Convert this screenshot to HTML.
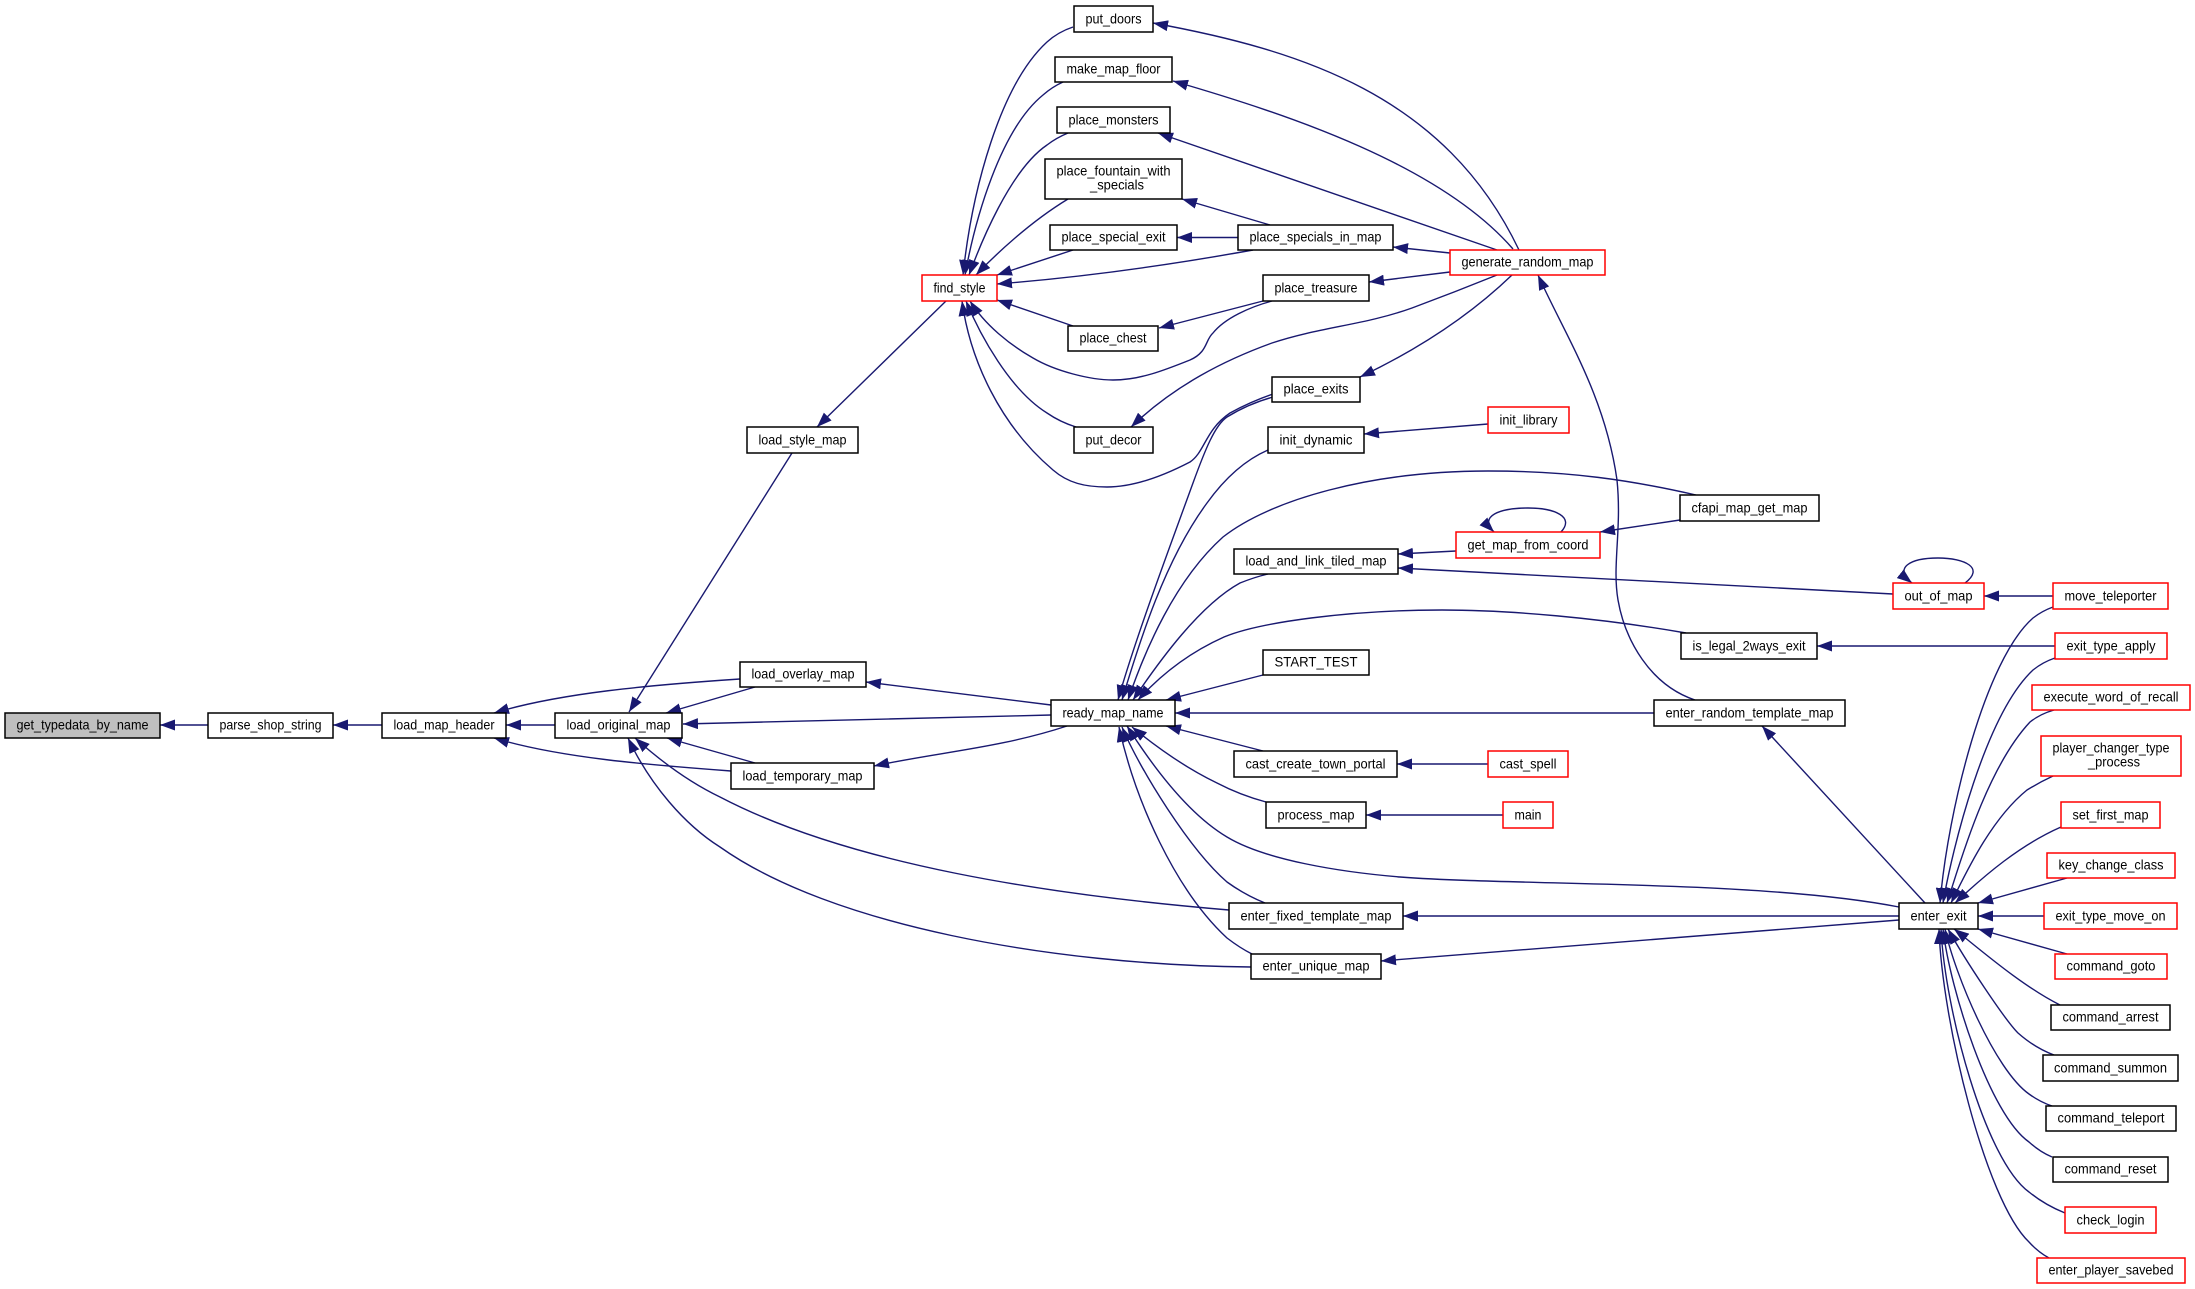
<!DOCTYPE html>
<html><head><meta charset="utf-8"><title>get_typedata_by_name</title>
<style>
html,body{margin:0;padding:0;background:#fff;width:2195px;height:1289px;overflow:hidden}
svg{display:block;filter:blur(.35px)}
text{font-family:"Liberation Sans",sans-serif;font-size:14px;fill:#000;text-anchor:middle}
.b rect{stroke:#000;stroke-width:1.5;fill:#fff}
.r rect{stroke:#f00;stroke-width:1.5;fill:#fff}
.e path{fill:none;stroke:#191970;stroke-width:1.4;marker-start:url(#a)}
</style></head><body>
<svg width="2195" height="1289" viewBox="0 0 2195 1289" xmlns="http://www.w3.org/2000/svg">
<defs><marker id="a" markerUnits="userSpaceOnUse" markerWidth="15" markerHeight="11" viewBox="0 0 15 11" refX="15" refY="5.5" orient="auto-start-reverse"><polygon points="0,0 15,5.5 0,11" fill="#191970"/></marker></defs>
<g class="e">
<path d="M160,725L208,725"/>
<path d="M333,725L382,725"/>
<path d="M506,725L555,725"/>
<path d="M494,713C560,693 650,685 740,679"/>
<path d="M494,738C560,758 650,765 731,771"/>
<path d="M629,712L792,453"/>
<path d="M666,713L755,687"/>
<path d="M683,724L1051,715"/>
<path d="M667,738L755,763"/>
<path d="M635,738C665,765 695,785 720,797C850,865 1050,895 1229,910"/>
<path d="M628,738C650,785 685,825 720,847C830,925 1050,965 1251,967"/>
<path d="M866,682L1051,705"/>
<path d="M874,766C940,752 1000,748 1067,726"/>
<path d="M817,427L946,301"/>
<path d="M963,275C972,190 1000,85 1047,42Q1058,32 1073,27"/>
<path d="M965,275C975,220 1000,130 1043,95Q1052,87 1063,82"/>
<path d="M969,275C980,245 1010,170 1047,145Q1056,138 1068,133"/>
<path d="M976,275C995,255 1030,222 1068,199"/>
<path d="M997,275L1073,250"/>
<path d="M997,284C1085,277 1170,265 1253,250"/>
<path d="M997,300L1073,326"/>
<path d="M970,301C985,325 1010,345 1033,358C1055,371 1090,380 1113,380C1140,380 1165,370 1190,360C1208,352 1205,340 1213,333C1225,318 1250,307 1272,301"/>
<path d="M966,301C980,335 1010,390 1047,413Q1060,422 1076,427"/>
<path d="M962,301C970,360 1000,425 1053,470C1068,483 1085,487 1107,487C1135,487 1165,475 1190,462C1205,452 1205,430 1230,413Q1250,402 1273,394"/>
<path d="M1153,23C1300,50 1445,95 1519,250"/>
<path d="M1173,81C1290,115 1440,165 1513,249"/>
<path d="M1158,133L1497,250"/>
<path d="M1182,199L1270,225"/>
<path d="M1177,237.500L1238,237.500"/>
<path d="M1393,247L1450,253"/>
<path d="M1369,282L1450,272"/>
<path d="M1159,328L1263,301"/>
<path d="M1131,427C1175,385 1225,360 1272,343C1320,327 1365,325 1412,308Q1455,292 1497,275"/>
<path d="M1360,377C1400,358 1460,325 1512,275"/>
<path d="M1538,275C1565,335 1605,395 1617,480C1622,530 1612,565 1618,600C1625,640 1650,685 1695,700"/>
<path d="M1118,700C1135,640 1165,560 1193,483C1205,450 1215,425 1227,417Q1248,404 1273,397"/>
<path d="M1122,700C1140,640 1165,560 1207,503C1225,478 1245,460 1268,450"/>
<path d="M1128,700C1145,650 1175,580 1223,537C1270,500 1370,471 1488,471C1570,471 1630,480 1696,495"/>
<path d="M1133,700C1160,660 1200,605 1240,583Q1255,577 1268,574"/>
<path d="M1138,700C1165,670 1195,650 1224,637C1260,622 1350,610 1442,610C1510,610 1600,618 1686,633"/>
<path d="M1166,700L1263,675"/>
<path d="M1175,713L1654,713"/>
<path d="M1166,726L1263,751"/>
<path d="M1132,727C1160,750 1190,770 1217,783Q1240,795 1266,802"/>
<path d="M1127,726C1155,770 1190,815 1227,837C1265,860 1340,872 1400,877C1520,886 1760,880 1899,907"/>
<path d="M1122,727C1140,770 1190,850 1227,882Q1245,895 1265,903"/>
<path d="M1119,727C1135,800 1175,890 1227,938Q1240,948 1252,954"/>
<path d="M1364,434L1488,424"/>
<path d="M1398,554L1456,551"/>
<path d="M1398,568L1893,594"/>
<path d="M1494,532C1478,516 1500,508 1528,508C1555,508 1575,517 1561,532"/>
<path d="M1600,532L1680,520"/>
<path d="M1912,583C1893,568 1910,558 1938,558C1965,558 1985,568 1965,583"/>
<path d="M1984,596L2053,596"/>
<path d="M1817,646L2055,646"/>
<path d="M1762,726L1925,903"/>
<path d="M1403,916L1899,916"/>
<path d="M1381,961L1899,920"/>
<path d="M1397,764L1488,764"/>
<path d="M1366,815L1503,815"/>
<path d="M1940,903C1948,810 1985,660 2033,618Q2042,611 2053,607"/>
<path d="M1943,903C1952,850 1985,715 2033,670Q2043,662 2055,658"/>
<path d="M1947,903C1958,870 1985,770 2030,722Q2040,714 2054,710"/>
<path d="M1951,903C1965,875 1990,820 2027,790Q2040,782 2053,776"/>
<path d="M1955,903C1985,875 2020,845 2061,827"/>
<path d="M1978,903L2067,878"/>
<path d="M1978,916L2044,916"/>
<path d="M1978,929L2067,954"/>
<path d="M1954,929C1975,945 2020,985 2060,1005"/>
<path d="M1948,929C1965,960 2005,1020 2018,1033Q2035,1048 2054,1055"/>
<path d="M1945,929C1955,975 1995,1070 2029,1094Q2040,1102 2052,1106"/>
<path d="M1943,929C1950,990 1990,1115 2029,1142Q2040,1152 2052,1157"/>
<path d="M1941,929C1945,1010 1985,1160 2029,1192Q2045,1205 2065,1213"/>
<path d="M1939,929C1942,1020 1985,1200 2029,1242Q2038,1252 2049,1258"/>
</g>
<g class="b">
<rect x="5" y="713" width="155" height="25" style="fill:#bfbfbf"/><text x="82.500" y="729.5" textLength="132" lengthAdjust="spacingAndGlyphs">get_typedata_by_name</text>
<rect x="208" y="713" width="125" height="25"/><text x="270.500" y="729.5" textLength="102" lengthAdjust="spacingAndGlyphs">parse_shop_string</text>
<rect x="382" y="713" width="124" height="25"/><text x="444.000" y="729.5" textLength="101" lengthAdjust="spacingAndGlyphs">load_map_header</text>
<rect x="555" y="713" width="127" height="25"/><text x="618.500" y="729.5" textLength="104" lengthAdjust="spacingAndGlyphs">load_original_map</text>
<rect x="747" y="427" width="111" height="26"/><text x="802.500" y="444.5" textLength="88" lengthAdjust="spacingAndGlyphs">load_style_map</text>
<rect x="740" y="662" width="126" height="25"/><text x="803.000" y="678.5" textLength="103" lengthAdjust="spacingAndGlyphs">load_overlay_map</text>
<rect x="731" y="763" width="143" height="26"/><text x="802.500" y="780.5" textLength="120" lengthAdjust="spacingAndGlyphs">load_temporary_map</text>
<rect x="1051" y="700" width="124" height="26"/><text x="1113.000" y="717.5" textLength="101" lengthAdjust="spacingAndGlyphs">ready_map_name</text>
<rect x="1074" y="6" width="79" height="26"/><text x="1113.500" y="23.5" textLength="56" lengthAdjust="spacingAndGlyphs">put_doors</text>
<rect x="1055" y="57" width="117" height="25"/><text x="1113.500" y="73.5" textLength="94" lengthAdjust="spacingAndGlyphs">make_map_floor</text>
<rect x="1057" y="107" width="113" height="26"/><text x="1113.500" y="124.5" textLength="90" lengthAdjust="spacingAndGlyphs">place_monsters</text>
<rect x="1045" y="159" width="137" height="40"/><text x="1113.500" y="175.5" textLength="114" lengthAdjust="spacingAndGlyphs">place_fountain_with</text><text x="1117" y="189.5" textLength="54" lengthAdjust="spacingAndGlyphs">_specials</text>
<rect x="1050" y="225" width="127" height="25"/><text x="1113.500" y="241.5" textLength="104" lengthAdjust="spacingAndGlyphs">place_special_exit</text>
<rect x="1238" y="225" width="155" height="25"/><text x="1315.500" y="241.5" textLength="132" lengthAdjust="spacingAndGlyphs">place_specials_in_map</text>
<rect x="1263" y="275" width="106" height="26"/><text x="1316.000" y="292.5" textLength="83" lengthAdjust="spacingAndGlyphs">place_treasure</text>
<rect x="1068" y="326" width="90" height="25"/><text x="1113.000" y="342.5" textLength="67" lengthAdjust="spacingAndGlyphs">place_chest</text>
<rect x="1074" y="427" width="79" height="26"/><text x="1113.500" y="444.5" textLength="56" lengthAdjust="spacingAndGlyphs">put_decor</text>
<rect x="1272" y="377" width="88" height="25"/><text x="1316.000" y="393.5" textLength="65" lengthAdjust="spacingAndGlyphs">place_exits</text>
<rect x="1268" y="427" width="96" height="26"/><text x="1316.000" y="444.5" textLength="73" lengthAdjust="spacingAndGlyphs">init_dynamic</text>
<rect x="1680" y="495" width="139" height="26"/><text x="1749.500" y="512.5" textLength="116" lengthAdjust="spacingAndGlyphs">cfapi_map_get_map</text>
<rect x="1234" y="549" width="164" height="25"/><text x="1316.000" y="565.5" textLength="141" lengthAdjust="spacingAndGlyphs">load_and_link_tiled_map</text>
<rect x="1681" y="633" width="136" height="26"/><text x="1749.000" y="650.5" textLength="113" lengthAdjust="spacingAndGlyphs">is_legal_2ways_exit</text>
<rect x="1263" y="650" width="106" height="25"/><text x="1316.000" y="666.5" textLength="83" lengthAdjust="spacingAndGlyphs">START_TEST</text>
<rect x="1654" y="700" width="191" height="26"/><text x="1749.500" y="717.5" textLength="168" lengthAdjust="spacingAndGlyphs">enter_random_template_map</text>
<rect x="1234" y="751" width="163" height="26"/><text x="1315.500" y="768.5" textLength="140" lengthAdjust="spacingAndGlyphs">cast_create_town_portal</text>
<rect x="1266" y="802" width="100" height="26"/><text x="1316.000" y="819.5" textLength="77" lengthAdjust="spacingAndGlyphs">process_map</text>
<rect x="1229" y="903" width="174" height="26"/><text x="1316.000" y="920.5" textLength="151" lengthAdjust="spacingAndGlyphs">enter_fixed_template_map</text>
<rect x="1251" y="954" width="130" height="25"/><text x="1316.000" y="970.5" textLength="107" lengthAdjust="spacingAndGlyphs">enter_unique_map</text>
<rect x="1899" y="903" width="79" height="26"/><text x="1938.500" y="920.5" textLength="56" lengthAdjust="spacingAndGlyphs">enter_exit</text>
<rect x="2051" y="1005" width="119" height="25"/><text x="2110.500" y="1021.5" textLength="96" lengthAdjust="spacingAndGlyphs">command_arrest</text>
<rect x="2043" y="1055" width="135" height="26"/><text x="2110.500" y="1072.5" textLength="113" lengthAdjust="spacingAndGlyphs">command_summon</text>
<rect x="2046" y="1106" width="130" height="25"/><text x="2111.000" y="1122.5" textLength="107" lengthAdjust="spacingAndGlyphs">command_teleport</text>
<rect x="2053" y="1157" width="115" height="25"/><text x="2110.500" y="1173.5" textLength="92" lengthAdjust="spacingAndGlyphs">command_reset</text>
</g>
<g class="r">
<rect x="922" y="275" width="75" height="26"/><text x="959.500" y="292.5" textLength="52" lengthAdjust="spacingAndGlyphs">find_style</text>
<rect x="1450" y="250" width="155" height="25"/><text x="1527.500" y="266.5" textLength="132" lengthAdjust="spacingAndGlyphs">generate_random_map</text>
<rect x="1488" y="407" width="81" height="26"/><text x="1528.500" y="424.5" textLength="58" lengthAdjust="spacingAndGlyphs">init_library</text>
<rect x="1456" y="532" width="144" height="26"/><text x="1528.000" y="549.5" textLength="121" lengthAdjust="spacingAndGlyphs">get_map_from_coord</text>
<rect x="1488" y="751" width="80" height="26"/><text x="1528.000" y="768.5" textLength="57" lengthAdjust="spacingAndGlyphs">cast_spell</text>
<rect x="1503" y="802" width="50" height="26"/><text x="1528.000" y="819.5" textLength="27" lengthAdjust="spacingAndGlyphs">main</text>
<rect x="1893" y="583" width="91" height="26"/><text x="1938.500" y="600.5" textLength="68" lengthAdjust="spacingAndGlyphs">out_of_map</text>
<rect x="2053" y="583" width="115" height="26"/><text x="2110.500" y="600.5" textLength="92" lengthAdjust="spacingAndGlyphs">move_teleporter</text>
<rect x="2055" y="633" width="112" height="26"/><text x="2111.000" y="650.5" textLength="89" lengthAdjust="spacingAndGlyphs">exit_type_apply</text>
<rect x="2032" y="685" width="158" height="25"/><text x="2111.000" y="701.5" textLength="135" lengthAdjust="spacingAndGlyphs">execute_word_of_recall</text>
<rect x="2041" y="736" width="140" height="40"/><text x="2111.000" y="752.5" textLength="117" lengthAdjust="spacingAndGlyphs">player_changer_type</text><text x="2114" y="766.5" textLength="52" lengthAdjust="spacingAndGlyphs">_process</text>
<rect x="2061" y="802" width="99" height="26"/><text x="2110.500" y="819.5" textLength="76" lengthAdjust="spacingAndGlyphs">set_first_map</text>
<rect x="2047" y="853" width="128" height="25"/><text x="2111.000" y="869.5" textLength="105" lengthAdjust="spacingAndGlyphs">key_change_class</text>
<rect x="2044" y="903" width="133" height="26"/><text x="2110.500" y="920.5" textLength="110" lengthAdjust="spacingAndGlyphs">exit_type_move_on</text>
<rect x="2055" y="954" width="112" height="25"/><text x="2111.000" y="970.5" textLength="89" lengthAdjust="spacingAndGlyphs">command_goto</text>
<rect x="2065" y="1207" width="91" height="26"/><text x="2110.500" y="1224.5" textLength="68" lengthAdjust="spacingAndGlyphs">check_login</text>
<rect x="2037" y="1258" width="148" height="25"/><text x="2111.000" y="1274.5" textLength="125" lengthAdjust="spacingAndGlyphs">enter_player_savebed</text>
</g>
</svg>
</body></html>
